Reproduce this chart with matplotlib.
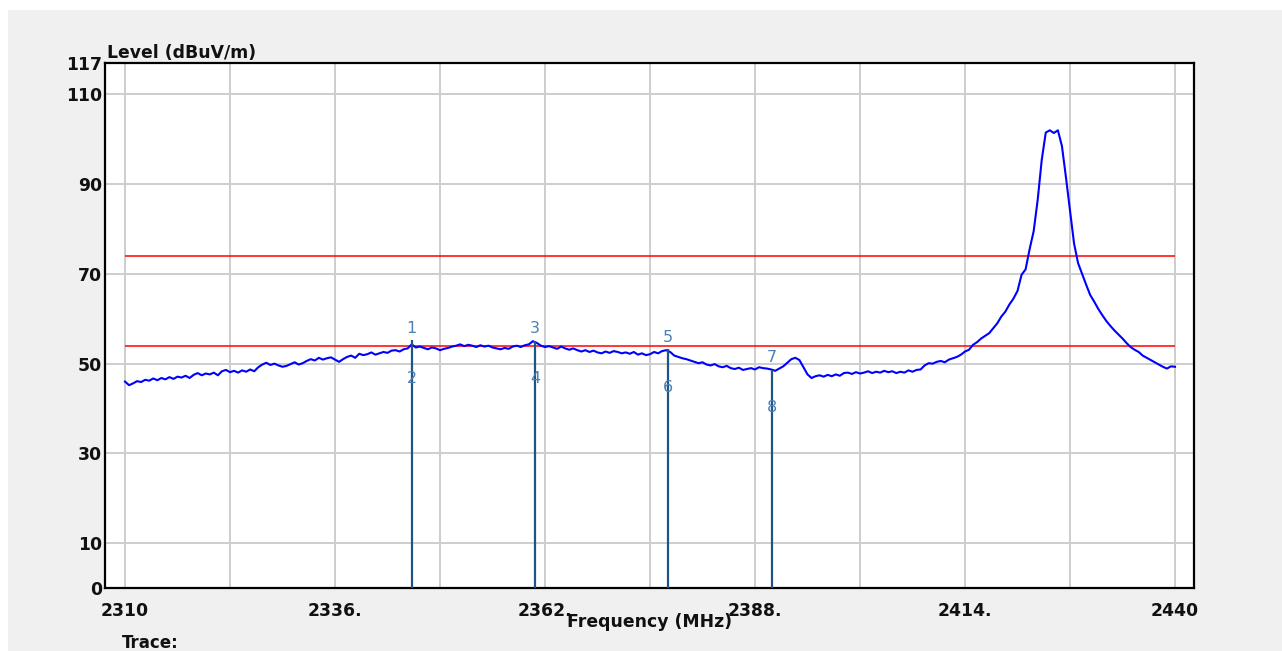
import numpy as np
import matplotlib
matplotlib.use("Agg")
import matplotlib.pyplot as plt
from matplotlib.patches import Rectangle

# ---- data ----
freq_start, freq_stop, freq_step = 2310.0, 2440.0, 0.5
levels = [
    46.0, 45.2, 45.6, 46.1, 45.9, 46.4, 46.2, 46.7, 46.3, 46.8,   # 2310
    46.5, 47.0, 46.6, 47.1, 46.9, 47.3, 46.8, 47.5, 47.9, 47.4,   # 2315
    47.8, 47.6, 48.0, 47.4, 48.3, 48.6, 48.1, 48.4, 48.0, 48.5,   # 2320
    48.2, 48.7, 48.3, 49.2, 49.8, 50.2, 49.7, 50.0, 49.6, 49.3,   # 2325
    49.5, 49.9, 50.3, 49.8, 50.1, 50.6, 51.0, 50.7, 51.3, 50.9,   # 2330
    51.2, 51.4, 50.9, 50.4, 51.0, 51.5, 51.8, 51.3, 52.2, 51.9,   # 2335
    52.1, 52.5, 52.0, 52.3, 52.6, 52.4, 52.9, 53.0, 52.7, 53.2,   # 2340
    53.4, 54.3, 53.6, 53.8, 53.5, 53.2, 53.6, 53.4, 53.0, 53.3,   # 2345
    53.5, 53.8, 54.0, 54.3, 53.9, 54.2, 54.0, 53.7, 54.1, 53.8,   # 2350
    54.0, 53.6, 53.4, 53.2, 53.5, 53.3, 53.8, 54.0, 53.7, 54.1,   # 2355
    54.3, 55.0, 54.6, 54.0, 53.7, 53.9, 53.6, 53.3, 53.8, 53.4,   # 2360
    53.1, 53.4, 53.0, 52.7, 53.0, 52.6, 52.9, 52.5, 52.3, 52.7,   # 2365
    52.4, 52.8, 52.6, 52.3, 52.5, 52.2, 52.6, 52.0, 52.3, 51.9,   # 2370
    52.1, 52.6, 52.3, 52.8, 53.0, 52.6, 51.8, 51.5, 51.2, 51.0,   # 2375
    50.7, 50.4, 50.1, 50.3, 49.8, 49.6, 49.9, 49.4, 49.2, 49.5,   # 2380
    49.0, 48.8, 49.1, 48.6, 48.8, 49.0, 48.7, 49.2, 49.0, 48.9,   # 2385
    48.7, 48.4, 48.9, 49.4, 50.2, 51.0, 51.3, 50.8, 49.2, 47.6,   # 2390
    46.8, 47.2, 47.4, 47.1, 47.5, 47.2, 47.6, 47.3, 47.9, 48.0,   # 2395
    47.7, 48.1, 47.8, 48.0, 48.3, 47.9, 48.2, 48.0, 48.4, 48.1,   # 2400
    48.3, 47.9, 48.2, 48.0, 48.5, 48.2, 48.6, 48.7, 49.6, 50.1,   # 2405
    50.0, 50.4, 50.6, 50.3, 50.9, 51.2, 51.5, 52.0, 52.7, 53.1,   # 2410
    54.2, 54.8, 55.6, 56.2, 56.8, 57.9, 59.0, 60.5, 61.6, 63.2,   # 2415
    64.5, 66.2, 69.8, 71.0, 75.5, 79.5, 86.5, 95.4, 101.5, 102.0, # 2420
    101.4, 102.0, 98.5, 91.5, 84.2, 76.8, 72.4, 70.0, 67.6, 65.3, # 2425
    63.8, 62.2, 60.8, 59.5, 58.4, 57.4, 56.5, 55.6, 54.6, 53.7,   # 2430
    53.1, 52.6, 51.8, 51.3, 50.8, 50.3, 49.8, 49.3, 48.9, 49.4,   # 2435
    49.3,                                                          # 2440
]
limit_levels = [74, 54]

marker_freqs = [2345.5, 2360.8, 2377.2, 2390.1]
marker_levels = [55.2, 55.1, 53.2, 48.6]
marker_top_labels = ["1", "3", "5", "7"]
marker_bottom_labels = ["2", "4", "6", "8"]

x_grid = [2310, 2323, 2336, 2349, 2362, 2375, 2388, 2401, 2414, 2427, 2440]
x_labels = ["2310", "", "2336.", "", "2362.", "", "2388.", "", "2414.", "", "2440"]
y_ticks = [0, 10, 30, 50, 70, 90, 110, 117]
y_labels = ["0", "10", "30", "50", "70", "90", "110", "117"]

freqs = np.arange(freq_start, freq_stop + freq_step / 2, freq_step)

# ---- figure ----
W, H = 1282, 651
fig = plt.figure(figsize=(W / 100, H / 100), dpi=100, facecolor="white")
fig.patches.append(Rectangle((8 / W, 0), 1 - 8 / W, 1 - 10 / H,
                             transform=fig.transFigure, facecolor="#f0f0f0",
                             edgecolor="none", zorder=-10))

left, right, top, bottom = 105, 1194, 63, 588
ax = fig.add_axes([left / W, 1 - bottom / H, (right - left) / W, (bottom - top) / H])
ax.set_facecolor("white")

px_per_mhz = (1175 - 125) / 130.0
ax.set_xlim(2310 - 20 / px_per_mhz, 2440 + 19 / px_per_mhz)
ax.set_ylim(0, 117)

ax.set_xticks(x_grid)
ax.set_xticklabels(x_labels)
ax.set_yticks(y_ticks)
ax.set_yticklabels(y_labels)
ax.tick_params(length=0, labelsize=12.4, labelcolor="#111111")
ax.tick_params(axis="x", pad=10)
ax.tick_params(axis="y", pad=2)
for lab in ax.get_xticklabels() + ax.get_yticklabels():
    lab.set_fontweight("bold")

for xv in x_grid:
    ax.axvline(xv, color="#cdcdcd", lw=1.4, zorder=1)
for yv in [10, 30, 50, 70, 90, 110]:
    ax.axhline(yv, color="#cdcdcd", lw=1.4, zorder=1)

for sp in ax.spines.values():
    sp.set_linewidth(1.6)
    sp.set_color("black")

# limit lines
ax.hlines(limit_levels, 2310, 2440, colors="#ff0000", lw=1.1, zorder=3)

# trace
ax.plot(freqs, levels, color="#0000ff", lw=1.5, zorder=4)

# markers
for f, lv, tl, bl in zip(marker_freqs, marker_levels, marker_top_labels, marker_bottom_labels):
    ax.vlines(f, 0, lv, colors="#1f5485", lw=1.6, zorder=5)
    ax.annotate(tl, (f, lv), xytext=(0, 12), textcoords="offset pixels",
                ha="center", va="center", fontsize=11.5, color="#4a80b4", zorder=6)
    ax.annotate(bl, (f, lv), xytext=(0, -38), textcoords="offset pixels",
                ha="center", va="center", fontsize=11.5, color="#4a80b4", zorder=6)

# texts
fig.text(107 / W, 1 - 58 / H, "Level (dBuV/m)", fontsize=12.4, fontweight="bold",
         color="#111111", ha="left", va="baseline")
fig.text(650 / W, 1 - 622 / H, "Frequency (MHz)", fontsize=12.4, fontweight="bold",
         color="#111111", ha="center", va="center")
fig.text(122 / W, 1 - 634 / H, "Trace:", fontsize=12.0, fontweight="bold",
         color="#111111", ha="left", va="top")

fig.savefig("out.png", dpi=100, facecolor="white")
